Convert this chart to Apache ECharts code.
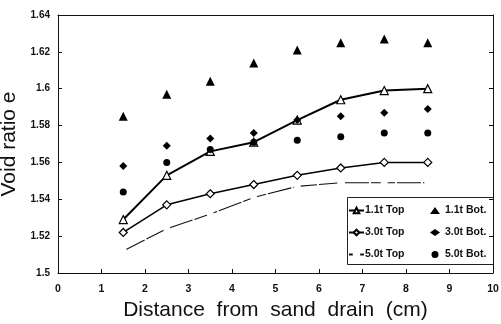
<!DOCTYPE html>
<html>
<head>
<meta charset="utf-8">
<script src="https://cdn.jsdelivr.net/npm/echarts@6/dist/echarts.min.js"></script>
<style>
  html, body { margin: 0; padding: 0; background: #fff; }
  #chart { width: 501px; height: 324px; }
</style>
</head>
<body>
<div id="chart"></div>
<script>
var distance = [1.5, 2.5, 3.5, 4.5, 5.5, 6.5, 7.5, 8.5];

var top11 = [1.529, 1.553, 1.566, 1.571, 1.583, 1.594, 1.599, 1.600];
var top30 = [1.522, 1.537, 1.543, 1.548, 1.553, 1.557, 1.560, 1.560];
var top50 = [1.512, 1.524, 1.532, 1.541, 1.547, 1.549, 1.549, 1.549];
var bot11 = [1.585, 1.597, 1.604, 1.614, 1.621, 1.625, 1.627, 1.625];
var bot30 = [1.558, 1.569, 1.573, 1.576, 1.583, 1.585, 1.587, 1.589];
var bot50 = [1.544, 1.560, 1.567, 1.571, 1.572, 1.574, 1.576, 1.576];

var yTicks = ["1.5", "1.52", "1.54", "1.56", "1.58", "1.6", "1.62", "1.64"];

var pair = function (ys) {
  return distance.map(function (x, i) { return [x, ys[i]]; });
};

var font = "'Liberation Sans', Arial, sans-serif";

var chart = echarts.init(document.getElementById("chart"));
chart.setOption({
  animation: false,
  textStyle: { fontFamily: font, color: "#000" },
  grid: { left: 58, right: 8, top: 15, bottom: 51, show: false, outerBoundsMode: "none", containLabel: false },
  xAxis: [
    {
      type: "value",
      min: 0,
      max: 10,
      interval: 1,
      name: "Distance  from  sand  drain  (cm)",
      nameLocation: "middle",
      nameGap: 27,
      nameTextStyle: { fontSize: 21, color: "#111" },
      axisLine: { lineStyle: { color: "#111", width: 1 } },
      axisTick: { inside: true, length: 4, lineStyle: { color: "#111" } },
      axisLabel: { fontSize: 10.5, fontWeight: "bold", color: "#111", margin: 11 },
      splitLine: { show: false }
    },
    {
      type: "value",
      position: "top",
      min: 0,
      max: 10,
      interval: 1,
      axisLine: { show: true, onZero: false, lineStyle: { color: "#111", width: 1 } },
      axisTick: { show: false },
      axisLabel: { show: false },
      splitLine: { show: false }
    }
  ],
  yAxis: [
    {
      type: "value",
      min: 1.5,
      max: 1.64,
      interval: 0.02,
      name: "Void ratio e",
      nameLocation: "middle",
      nameGap: 30,
      nameTextStyle: { fontSize: 21, color: "#111" },
      axisLine: { show: true, lineStyle: { color: "#111", width: 1 } },
      axisTick: { show: true, inside: true, length: 4, lineStyle: { color: "#111" } },
      axisLabel: {
        fontSize: 10,
        fontWeight: "bold",
        color: "#111",
        margin: 8,
        formatter: function (v) { return yTicks[Math.round((v - 1.5) / 0.02)]; }
      },
      splitLine: { show: false }
    },
    {
      type: "value",
      position: "right",
      min: 1.5,
      max: 1.64,
      interval: 0.02,
      axisLine: { show: true, onZero: false, lineStyle: { color: "#111", width: 1 } },
      axisTick: { show: true, inside: true, length: 4, lineStyle: { color: "#111" } },
      axisLabel: { show: false },
      splitLine: { show: false }
    }
  ],
  legend: [
    {
      data: ["1.1t Top", "3.0t Top", "5.0t Top"],
      orient: "vertical",
      left: 348,
      top: 205,
      padding: 0,
      itemWidth: 15,
      itemHeight: 7,
      itemGap: 11,
      textStyle: { fontSize: 10.5, fontWeight: "bold", color: "#111", padding: [0, 0, 0, -4] }
    },
    {
      data: ["1.1t Bot.", "3.0t Bot.", "5.0t Bot."],
      orient: "vertical",
      left: 430,
      top: 205,
      padding: 0,
      itemWidth: 10,
      itemHeight: 7,
      itemGap: 11,
      textStyle: { fontSize: 10.5, fontWeight: "bold", color: "#111" }
    }
  ],
  graphic: [
    {
      type: "rect",
      shape: { x: 347.5, y: 197.5, width: 146, height: 67 },
      style: { fill: "#fff", stroke: "#222", lineWidth: 1 },
      z: 0
    }
  ],
  series: [
    {
      name: "1.1t Top",
      type: "line",
      data: pair(top11),
      symbol: "triangle",
      symbolSize: 8,
      lineStyle: { color: "#000", width: 2 },
      itemStyle: { color: "#fff", borderColor: "#000", borderWidth: 1.2 },
      z: 5
    },
    {
      name: "3.0t Top",
      type: "line",
      data: pair(top30),
      symbol: "diamond",
      symbolSize: 8,
      lineStyle: { color: "#000", width: 1.5 },
      itemStyle: { color: "#fff", borderColor: "#000", borderWidth: 1.2 },
      z: 5
    },
    {
      name: "5.0t Top",
      type: "line",
      data: pair(top50),
      symbol: "emptyCircle",
      symbolSize: 5,
      lineStyle: { color: "#111", width: 1.1, type: [24, 2] },
      itemStyle: { color: "#fff", borderColor: "#888", borderWidth: 0.8 },
      z: 5
    },
    {
      name: "1.1t Bot.",
      type: "scatter",
      data: pair(bot11),
      symbol: "triangle",
      symbolSize: 9,
      itemStyle: { color: "#000", opacity: 1 },
      z: 6
    },
    {
      name: "3.0t Bot.",
      type: "scatter",
      data: pair(bot30),
      symbol: "diamond",
      symbolSize: 8,
      itemStyle: { color: "#000", opacity: 1 },
      z: 6
    },
    {
      name: "5.0t Bot.",
      type: "scatter",
      data: pair(bot50),
      symbol: "circle",
      symbolSize: 7,
      itemStyle: { color: "#000", opacity: 1 },
      z: 6
    }
  ]
});
</script>
</body>
</html>
